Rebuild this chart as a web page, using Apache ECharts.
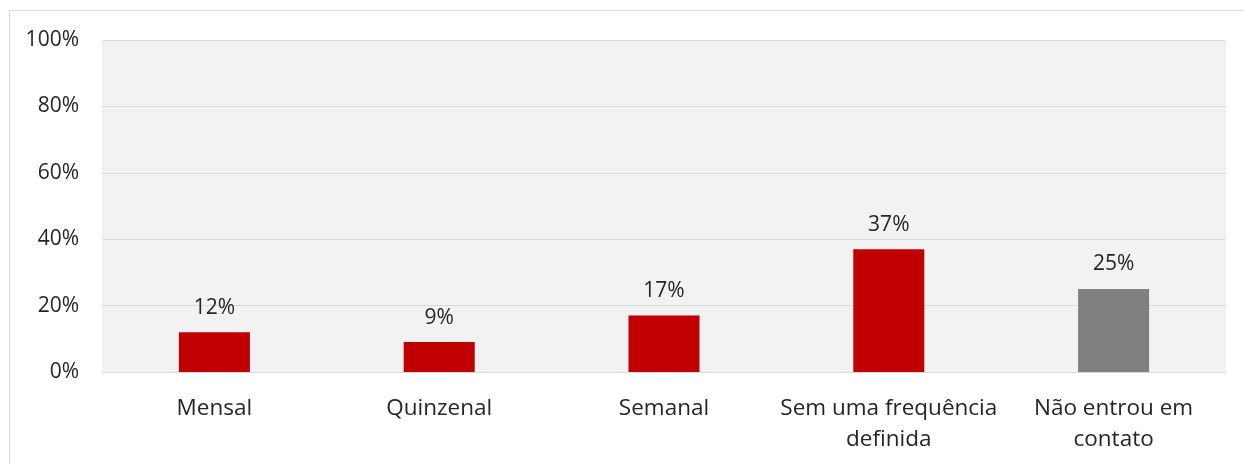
<!DOCTYPE html>
<html>
<head>
<meta charset="utf-8">
<script src="https://cdn.jsdelivr.net/npm/echarts@6/dist/echarts.min.js"></script>
<style>
html,body{margin:0;padding:0;background:#fff;}
#chart{width:1244px;height:464px;}
</style>
</head>
<body>
<div id="chart"></div>
<script>
var categories = ['Mensal', 'Quinzenal', 'Semanal', 'Sem uma frequência\ndefinida', 'Não entrou em\ncontato'];
var values = [12, 9, 17, 37, 25];
var barColors = ['#C00000', '#C00000', '#C00000', '#C00000', '#808080'];
var yTicks = [0, 20, 40, 60, 80, 100];

var chart = echarts.init(document.getElementById('chart'));
var font = '"Open Sans", sans-serif';
chart.setOption({
  animation: false,
  backgroundColor: '#ffffff',
  graphic: [{
    type: 'rect',
    silent: true,
    z: -10,
    shape: {x: 9.5, y: 10.5, width: 1300, height: 500},
    style: {fill: 'none', stroke: '#d9d9d9', lineWidth: 1}
  }],
  grid: {left: 102, right: 18, top: 40, bottom: 92, show: true, backgroundColor: '#f2f2f2', borderWidth: 0},
  xAxis: {
    type: 'category',
    data: categories,
    axisLine: {show: true, lineStyle: {color: '#d9d9d9', width: 1}},
    axisTick: {show: false},
    axisLabel: {color: '#262626', fontFamily: font, fontSize: 22.5, lineHeight: 31, margin: 21, interval: 0}
  },
  yAxis: {
    type: 'value',
    min: yTicks[0],
    max: yTicks[yTicks.length - 1],
    interval: 20,
    axisLine: {show: false},
    axisTick: {show: false},
    splitLine: {lineStyle: {color: '#d9d9d9', width: 1}},
    axisLabel: {color: '#262626', fontFamily: font, fontSize: 21, margin: 23, formatter: '{value}%'}
  },
  series: [{
    type: 'bar',
    barWidth: 71,
    data: values.map(function (v, i) { return {value: v, itemStyle: {color: barColors[i]}}; }),
    label: {show: true, position: 'top', distance: 14, color: '#262626', fontFamily: font, fontSize: 21, formatter: '{c}%'}
  }]
});
</script>
</body>
</html>
